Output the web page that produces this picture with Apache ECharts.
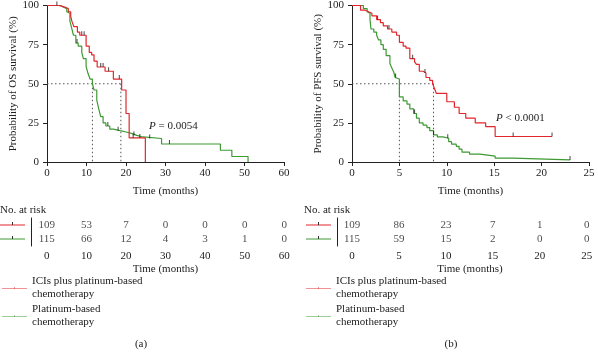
<!DOCTYPE html>
<html>
<head>
<meta charset="utf-8">
<script src="https://cdn.jsdelivr.net/npm/echarts@6/dist/echarts.min.js"></script>
<style>
  html, body { margin: 0; padding: 0; background: #fff; }
  #chart { width: 598px; height: 358px; }
</style>
</head>
<body>
<div id="chart"></div>
<script>
// series names
var nameICI = "ICIs plus platinum-based chemotherapy";
var namePlat = "Platinum-based chemotherapy";

// (a) OS, step points [months, %]
var osRed = [[0,100],[3.0,99],[4.5,98],[5.4,96],[6.0,93],[6.3,90],[6.8,86.5],[7.7,83],[8.3,81],[9.9,74],[10.7,70],[11.3,68.5],[11.9,64.5],[12.7,60.7],[14.7,58],[16.8,53],[18.9,46],[20.0,31],[20.8,15.4],[24.9,15.4],[24.9,0]];
var osGreen = [[0,100],[3.5,99],[4.1,98],[5.0,96],[5.4,95],[5.8,90],[6.2,86],[6.7,81],[7.3,76],[7.9,74],[8.8,70],[9.2,66],[9.9,61],[10.4,56.5],[10.9,53],[11.5,50],[11.9,46],[12.6,39.5],[13.1,34],[13.6,29],[14.2,25],[14.9,23],[15.9,21],[16.8,20],[18.5,19],[20.3,18],[21.8,17],[22.7,16],[24.3,15],[29.0,11.5],[43.9,7.5],[46.8,3.5],[50.9,0]];
var osRedCensor = [[2.5,100],[8.8,81],[9.4,81],[13.6,60.7],[14.2,60.7],[15.6,58],[18.3,53],[21.8,15.4],[23.5,15.4]];
var osGreenCensor = [[7.6,76],[15.4,23],[18.0,20],[22.0,17],[26.0,15],[31.0,11.5]];
var osMedian = [11.5, 18.7];
var osP = "{i|P} = 0.0054";

// (b) PFS, step points [months, %]
var pfsRed = [[0,100],[0.9,97],[1.4,96],[1.75,95],[2.1,93.4],[2.6,91],[3.0,89],[3.3,87],[3.75,85],[4.2,83],[4.7,81],[5.0,76.5],[5.4,74],[5.7,72.7],[6.1,66],[6.6,64],[6.8,62.4],[7.1,58],[7.5,56.9],[7.8,54],[8.2,52.2],[8.5,50],[8.7,47],[8.9,43.8],[10.0,38.5],[10.8,35],[11.3,31],[12.0,28],[13.0,25],[14.1,22.6],[15.1,16.3],[21.1,16.3]];
var pfsGreen = [[0,100],[1.2,98],[1.6,96],[1.75,95],[1.9,91],[2.0,85],[2.3,83],[2.6,81],[2.8,78],[3.05,75],[3.3,72],[3.6,68],[4.0,63],[4.2,60],[4.4,57.5],[4.55,54],[4.7,53],[5.0,41.6],[5.4,39],[5.8,37],[6.1,34],[6.5,31],[6.8,28],[7.1,25],[7.5,23.5],[7.9,22],[8.2,20],[8.6,17.3],[9.0,16],[9.6,15.2],[10.2,13],[10.5,11.4],[11.0,10],[11.3,8.2],[11.6,6.3],[12.4,5.0],[13.5,3.8],[15.1,2.5],[17.0,1.3],[23.0,1.3]];
var pfsRedCensor = [[2.7,91],[3.9,85],[6.4,66],[7.7,56.9],[17.0,16.3],[21.1,16.3]];
var pfsGreenCensor = [[4.6,54],[6.6,31],[8.6,17.3],[10.1,15.2],[23.0,1.3]];
var pfsMedian = [5.0, 8.6];
var pfsP = "{i|P} < 0.0001";

// numbers at risk
var osRiskTimes = [0, 10, 20, 30, 40, 50, 60];
var osRiskRed = [109, 53, 7, 0, 0, 0, 0];
var osRiskGreen = [115, 66, 12, 4, 3, 1, 0];
var pfsRiskTimes = [0, 5, 10, 15, 20, 25];
var pfsRiskRed = [109, 86, 23, 7, 1, 0];
var pfsRiskGreen = [115, 59, 15, 2, 0, 0];

var RED = "#e3262c";
var GREEN = "#3d9a33";
var FONT = "Liberation Serif";
var TXT = "#222";

function plotX(grid, max, step) {
  return {
    gridIndex: grid, type: "value", min: 0, max: max, interval: step,
    name: "Time (months)", nameLocation: "middle", nameGap: 24,
    nameTextStyle: { fontFamily: FONT, fontSize: 11, color: TXT },
    axisLine: { lineStyle: { color: "#222", width: 1 } },
    axisTick: { length: 4, lineStyle: { color: "#222" } },
    axisLabel: { margin: 6, fontFamily: FONT, fontSize: 11, color: TXT },
    splitLine: { show: false }
  };
}
function plotY(grid, title) {
  return {
    gridIndex: grid, type: "value", min: 0, max: 100, interval: 25,
    name: title, nameLocation: "middle", nameGap: 26,
    nameTextStyle: { fontFamily: FONT, fontSize: 11, color: TXT },
    axisLine: { show: true, lineStyle: { color: "#222", width: 1 } },
    axisTick: { show: true, length: 4, lineStyle: { color: "#222" } },
    axisLabel: { margin: 8, fontFamily: FONT, fontSize: 11, color: TXT },
    splitLine: { show: false }
  };
}
function tableX(grid, min, max, ticks) {
  return {
    gridIndex: grid, type: "value", min: min, max: max,
    axisLine: { onZero: false, lineStyle: { color: "#222", width: 1 } },
    axisTick: { show: false },
    axisLabel: { margin: 5, fontFamily: FONT, fontSize: 11, color: TXT, customValues: ticks },
    splitLine: { show: false }
  };
}
function tableY(grid) {
  return {
    gridIndex: grid, type: "category", data: ["g", "r"],
    axisLine: { show: true, onZero: false, lineStyle: { color: "#222", width: 1 } },
    axisTick: { show: false }, axisLabel: { show: false }, splitLine: { show: false }
  };
}
function curve(name, data, color, ax, z) {
  return {
    type: "line", name: name, step: "end", data: data, xAxisIndex: ax, yAxisIndex: ax,
    showSymbol: false, symbol: "none", lineStyle: { color: color, width: 1.2 },
    itemStyle: { color: color }, z: z, silent: true, animation: false
  };
}
function censor(data, ax) {
  return {
    type: "scatter", data: data, xAxisIndex: ax, yAxisIndex: ax,
    symbol: "rect", symbolSize: [1, 4], symbolOffset: [0, -2],
    itemStyle: { color: "#1a1a1a" }, z: 5, silent: true, animation: false
  };
}
function medianLines(med, ax) {
  var s = [];
  var segs = [[[0, 50], [med[1], 50]], [[med[0], 50], [med[0], 0]], [[med[1], 50], [med[1], 0]]];
  segs.forEach(function (d) {
    s.push({
      type: "line", data: d, xAxisIndex: ax, yAxisIndex: ax, symbol: "none",
      lineStyle: { color: "#555", width: 1, type: [1.5, 2.5] }, z: 1, silent: true, animation: false
    });
  });
  return s;
}
function riskRow(times, vals, row, ax) {
  return {
    type: "scatter", xAxisIndex: ax, yAxisIndex: ax, symbolSize: 0,
    data: times.map(function (t, i) { return [t, row, vals[i]]; }),
    label: {
      show: true, position: "inside", formatter: function (p) { return p.value[2]; },
      fontFamily: FONT, fontSize: 11, color: TXT
    },
    silent: true, animation: false
  };
}
function legendAt(left) {
  return {
    left: left, top: 275, padding: 0, orient: "vertical", itemWidth: 25, itemHeight: 5, itemGap: 2,
    selectedMode: false, data: [nameICI, namePlat],
    icon: "path://M0,4h50v1h-50zM24.5,1h1v3h-1z",
    formatter: function (n) { return n.replace(" chemotherapy", "\nchemotherapy"); },
    textStyle: { fontFamily: FONT, fontSize: 11, lineHeight: 13, color: TXT }
  };
}
function rowKey(x, y, color) {
  return [
    { type: "line", shape: { x1: x, y1: y, x2: x + 25, y2: y }, style: { stroke: color, lineWidth: 1 } },
    { type: "line", shape: { x1: x + 12.5, y1: y - 3, x2: x + 12.5, y2: y }, style: { stroke: "#333", lineWidth: 1 } }
  ];
}
function txt(x, y, s, align) {
  return { type: "text", x: x, y: y, style: { text: s, fontFamily: FONT, fontSize: 11, fill: TXT, align: align || "left", verticalAlign: "middle" } };
}
function pTitle(text, left, top) {
  return {
    text: text, left: left, top: top, padding: 0,
    textStyle: { fontFamily: FONT, fontSize: 11, fontWeight: "normal", color: TXT,
      rich: { i: { fontFamily: FONT, fontSize: 11, fontStyle: "italic", color: TXT } } }
  };
}

var series = [
  curve(namePlat, osGreen, GREEN, 0, 2),
  curve(nameICI, osRed, RED, 0, 3),
  censor(osRedCensor, 0), censor(osGreenCensor, 0),
  curve(namePlat, pfsGreen, GREEN, 1, 2),
  curve(nameICI, pfsRed, RED, 1, 3),
  censor(pfsRedCensor, 1), censor(pfsGreenCensor, 1),
  riskRow(osRiskTimes, osRiskRed, 1, 2),
  riskRow(osRiskTimes, osRiskGreen, 0, 2),
  riskRow(pfsRiskTimes, pfsRiskRed, 1, 3),
  riskRow(pfsRiskTimes, pfsRiskGreen, 0, 3)
].concat(medianLines(osMedian, 0), medianLines(pfsMedian, 1));

var graphics = [].concat(
  rowKey(0, 225, RED), rowKey(0, 239, GREEN),
  rowKey(306, 225, RED), rowKey(306, 239, GREEN),
  [
    txt(0, 210, "No. at risk"), txt(304, 210, "No. at risk"),
    txt(165.5, 269, "Time (months)", "center"), txt(470, 269, "Time (months)", "center"),
    txt(141, 344, "(a)", "center"), txt(451, 344, "(b)", "center")
  ]
);

var chart = echarts.init(document.getElementById("chart"), null, { renderer: "canvas" });
chart.setOption({
  animation: false,
  backgroundColor: "#fff",
  title: [pTitle(osP, 149, 121), pTitle(pfsP, 496, 113)],
  legend: [legendAt(2), legendAt(306)],
  grid: [
    { left: 47, top: 5, width: 237, height: 157 },
    { left: 352, top: 5, width: 237, height: 157 },
    { left: 31, top: 218, width: 256, height: 28 },
    { left: 337, top: 218, width: 261, height: 28 }
  ],
  xAxis: [
    plotX(0, 60, 10), plotX(1, 25, 5),
    tableX(2, -4, 60.7, osRiskTimes), tableX(3, -1.6, 26.2, pfsRiskTimes)
  ],
  yAxis: [
    plotY(0, "Probability of OS survival (%)"), plotY(1, "Probability of PFS survival (%)"),
    tableY(2), tableY(3)
  ],
  series: series,
  graphic: graphics
});
</script>
</body>
</html>
